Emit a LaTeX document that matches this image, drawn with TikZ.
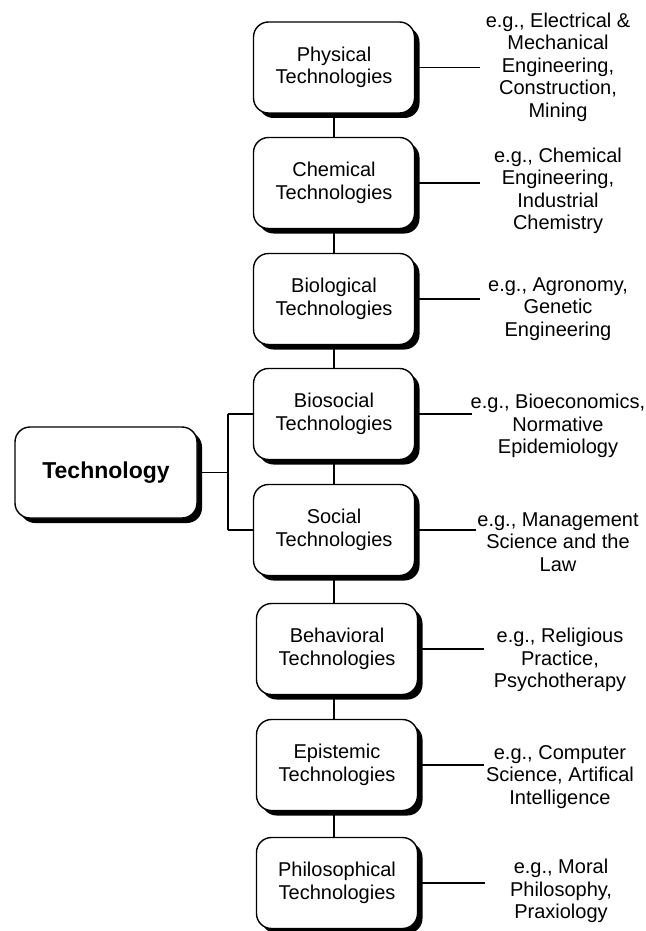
\documentclass[tikz,border=0pt]{standalone}
\usepackage{fontspec}
\setmainfont{Liberation Sans}
\usetikzlibrary{shadows}
\begin{document}
\begin{tikzpicture}[x=1pt,y=-1pt,
  techbox/.style={draw=black, line width=1.4pt, fill=white, rounded corners=15pt,
    minimum width=161pt, minimum height=91pt, inner sep=0pt, align=center,
    font=\fontsize{20}{22.5}\selectfont,
    drop shadow={shadow xshift=5pt, shadow yshift=-5pt, fill=black, opacity=1}},
  rootbox/.style={techbox, minimum width=182pt, font=\fontsize{23}{26}\selectfont\bfseries},
  desc/.style={align=center, inner sep=0pt, font=\fontsize{20}{22.5}\selectfont},
  conn/.style={draw=black, line width=1.3pt}]
\useasboundingbox (0,0) rectangle (645,931);

\node[rootbox] (tech) at (106,472.5) {Technology};

\node[techbox] (phys) at (334,67.5) {Physical\\Technologies};
\node[techbox] (chem) at (334,183) {Chemical\\Technologies};
\node[techbox] (bio)  at (334,299) {Biological\\Technologies};
\node[techbox] (bsoc) at (334,414) {Biosocial\\Technologies};
\node[techbox] (soc)  at (334,530) {Social\\Technologies};
\node[techbox] (beh)  at (337,649) {Behavioral\\Technologies};
\node[techbox] (epi)  at (337,765) {Epistemic\\Technologies};
\node[techbox] (phil) at (337,883) {Philosophical\\Technologies};

\node[desc] (dphys) at (558,67) {e.g., Electrical \&\\Mechanical\\Engineering,\\Construction,\\Mining};
\node[desc] (dchem) at (558,191) {e.g., Chemical\\Engineering,\\Industrial\\Chemistry};
\node[desc] (dbio)  at (558,309) {e.g., Agronomy,\\Genetic\\Engineering};
\node[desc] (dbsoc) at (558,426) {e.g., Bioeconomics,\\Normative\\Epidemiology};
\node[desc] (dsoc)  at (558,542) {e.g., Management\\Science and the\\Law};
\node[desc] (dbeh)  at (560,660) {e.g., Religious\\Practice,\\Psychotherapy};
\node[desc] (depi)  at (560,777) {e.g., Computer\\Science, Artifical\\Intelligence};
\node[desc] (dphil) at (561,891) {e.g., Moral\\Philosophy,\\Praxiology};

% vertical chain
\draw[conn] (phys.south) -- (phys.south |- chem.north);
\draw[conn] (chem.south) -- (chem.south |- bio.north);
\draw[conn] (bio.south) -- (bio.south |- bsoc.north);
\draw[conn] (bsoc.south) -- (bsoc.south |- soc.north);
\draw[conn] (soc.south) -- (soc.south |- beh.north);
\draw[conn] (beh.south -| soc.south) -- (soc.south |- epi.north);
\draw[conn] (epi.south -| soc.south) -- (soc.south |- phil.north);

% root connections
\coordinate (j) at (228,472.5);
\draw[conn] (tech.east) -- (j);
\draw[conn] (j |- bsoc.west) -- (j |- soc.west);
\draw[conn] (j |- bsoc.west) -- (bsoc.west);
\draw[conn] (j |- soc.west) -- (soc.west);

% description leaders
\coordinate (ephys) at (480,67.5);
\coordinate (echem) at (480,183);
\coordinate (ebio)  at (480,299);
\coordinate (ebsoc) at (472,414);
\coordinate (esoc)  at (476,530);
\coordinate (ebeh)  at (484,649);
\coordinate (eepi)  at (484,765);
\coordinate (ephil) at (485,883);
\draw[conn] (phys.east) -- (ephys);
\draw[conn] (chem.east) -- (echem);
\draw[conn] (bio.east) -- (ebio);
\draw[conn] (bsoc.east) -- (ebsoc);
\draw[conn] (soc.east) -- (esoc);
\draw[conn] (beh.east) -- (ebeh);
\draw[conn] (epi.east) -- (eepi);
\draw[conn] (phil.east) -- (ephil);
\end{tikzpicture}
\end{document}
